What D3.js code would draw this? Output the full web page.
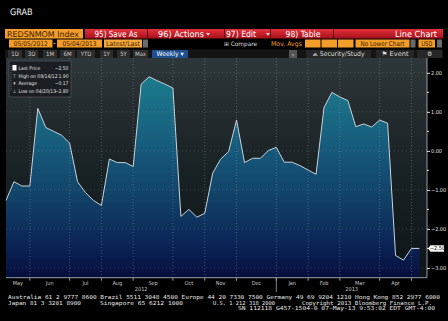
<!DOCTYPE html>
<html>
<head>
<meta charset="utf-8">
<script src="https://cdn.jsdelivr.net/npm/d3@7"></script>
<style>
  body { margin: 0; background: #000; }
  svg { display: block; }
  text { font-family: "DejaVu Sans Condensed", "Liberation Sans", sans-serif; text-rendering: geometricPrecision; }
</style>
</head>
<body>
<svg id="chart" width="448" height="321"></svg>
<script>

/* weekly values, REDSNMOM Index, 05/05/2012 - 05/04/2013 */
var weeklyValues = [
    -1.27, -0.79, -0.90, -0.90, 1.09, 0.60, 0.50, 0.40, 0.20, -0.79,
    -1.07, -1.27, -1.40, -0.21, -0.30, -0.30, -0.40, 1.71, 1.90, 1.80,
    1.71, 1.61, -1.68, -1.50, -1.70, -1.60, -0.57, -0.21, -0.02, 0.79,
    -0.30, -0.19, -0.19, 0.01, 0.09, -0.29, -0.29, -0.38, -0.49, -0.60,
    1.11, 1.50, 1.38, 1.29, 0.62, 0.69, 0.61, 0.79, 0.71, -2.68,
    -2.80, -2.50, -2.50
];
var startDate = new Date(2012, 4, 5);
var endDate = new Date(2013, 4, 4);

var yTicks = [2, 1, 0, -1, -2, -3];
var yMinorTicks = [1.5, 0.5, -0.5, -1.5, -2.5];
var monthNames = ["Jan", "Feb", "Mar", "Apr", "May", "Jun", "Jul", "Aug", "Sep", "Oct", "Nov", "Dec"];

var legendLabels = ["Last Price", "High on 09/14/12", "Average", "Low on 04/20/13"];

var footerLine1 = "Australia 61 2 9777 8600 Brazil 5511 3048 4500 Europe 44 20 7330 7500 Germany 49 69 9204 1210 Hong Kong 852 2977 6000";
var footerLine2 = ["Japan 81 3 3201 8900", "Singapore 65 6212 1000", "U.S. 1 212 318 2000", "Copyright 2013 Bloomberg Finance L.P."];
var footerLine3 = "SN 112118 G457-1504-0 07-May-13  9:53:02 EDT  GMT-4:00";


var dates = d3.timeSaturday.range(startDate, d3.timeDay.offset(endDate, 1));
var data = dates.map(function (d, i) {
    return {date: d, value: weeklyValues[i]};
});

var svg = d3.select("#chart");

var plotLeft = 6, plotRight = 427, plotTop = 58, plotBottom = 277.7;

var x = d3.scaleTime()
    .domain([dates[0], dates[dates.length - 1]])
    .range([plotLeft, 419.4]);

var y = d3.scaleLinear()
    .domain([-3.25, 2.38])
    .range([plotBottom, plotTop]);

var defs = svg.append("defs");

function vGrad(id, stops) {
    var g = defs.append("linearGradient").attr("id", id)
        .attr("gradientUnits", "userSpaceOnUse")
        .attr("x1", 0).attr("x2", 0).attr("y1", plotTop).attr("y2", plotBottom);
    stops.forEach(function (s) {
        g.append("stop").attr("offset", s[0]).attr("stop-color", s[1]);
    });
}

vGrad("bgGrad", [[0, "#2d3639"], [0.25, "#232b2e"], [0.55, "#172022"], [1, "#0e1519"]]);
vGrad("areaGrad", [[0, "#1f8190"], [0.15, "#1b7589"], [0.42, "#16597a"], [0.65, "#113f66"], [0.85, "#0b2456"], [1, "#060e3c"]]);

var redGrad = defs.append("linearGradient").attr("id", "redGrad")
    .attr("x1", 0).attr("x2", 0).attr("y1", 0).attr("y2", 1);
redGrad.append("stop").attr("offset", 0).attr("stop-color", "#e5303a");
redGrad.append("stop").attr("offset", 1).attr("stop-color", "#a3111b");

/* title + toolbars */

svg.append("text").attr("x", 10).attr("y", 15)
    .style("font-size", "9px").style("fill", "#f0f0f0").text("GRAB");

function box(x0, y0, w, h, fill, label, color, size, anchor, tl) {
    svg.append("rect").attr("x", x0).attr("y", y0).attr("width", w).attr("height", h)
        .style("fill", fill);
    if (label) {
        var t = svg.append("text")
            .attr("x", anchor === "end" ? x0 + w - 3 : anchor === "start" ? x0 + 2 : x0 + w / 2)
            .attr("y", y0 + h / 2 + size * 0.36)
            .attr("text-anchor", anchor || "middle")
            .style("font-size", size + "px")
            .style("fill", color)
            .text(label);
        if (tl) t.attr("textLength", tl).attr("lengthAdjust", "spacingAndGlyphs");
    }
}

// row 1
box(5, 29, 78, 9.5, "#f39d2a", "REDSNMOM Index", "#3a1e00", 8, "start", 72);
box(85, 29, 358, 9.5, "url(#redGrad)");
[["95) Save As", 116, 43], ["96) Actions", 181, 46], ["97) Edit", 241, 30], ["98) Table", 303, 35]].forEach(function (b) {
    svg.append("text").attr("x", b[1]).attr("y", 36.8).attr("text-anchor", "middle")
        .attr("textLength", b[2]).attr("lengthAdjust", "spacingAndGlyphs")
        .style("font-size", "8.5px").style("fill", "#fff").text(b[0]);
});
[147.5, 224.5, 270.5, 333.5].forEach(function (sx) {
    svg.append("line").attr("x1", sx).attr("x2", sx).attr("y1", 29).attr("y2", 38.5)
        .style("stroke", "#5a0a10").style("stroke-width", 1);
});
[208, 268].forEach(function (ax) {
    svg.append("path").attr("d", "M" + (ax - 2) + ",33.2L" + (ax + 2) + ",33.2L" + ax + ",35.4Z").style("fill", "#fff");
});
svg.append("text").attr("x", 437).attr("y", 36.8).attr("text-anchor", "end")
    .attr("textLength", 42).attr("lengthAdjust", "spacingAndGlyphs")
    .style("font-size", "8.5px").style("fill", "#fff").text("Line Chart");

// row 2
box(9, 39.5, 43.5, 8, "#f39d2a", "05/05/2012", "#3a1e00", 6.5, null, 34);
svg.append("rect").attr("x", 53.5).attr("y", 43).attr("width", 2).attr("height", 1).style("fill", "#f39d2a");
box(57, 39.5, 45, 8, "#f39d2a", "05/04/2013", "#3a1e00", 6.5, null, 34);
box(104, 39.5, 38, 8, "#f5a83c", "Latest/Last", "#3a1e00", 6.5, null, 34);
box(143, 39.5, 5, 8, "#6b6b6b");
svg.append("text").attr("x", 224).attr("y", 45.8).style("font-size", "6px").style("fill", "#ddd")
    .attr("textLength", 33).attr("lengthAdjust", "spacingAndGlyphs").text("⊞ Compare");
svg.append("text").attr("x", 271).attr("y", 45.8).style("font-size", "6.5px").style("fill", "#f39d2a")
    .attr("textLength", 31).attr("lengthAdjust", "spacingAndGlyphs").text("Mov. Avgs");
box(305, 39.5, 15.5, 8, "#f39d2a");
box(321.5, 39.5, 15.5, 8, "#f39d2a");
box(338, 39.5, 15.5, 8, "#f39d2a");
box(355.5, 39.5, 54, 8, "#f39d2a", "No Lower Chart", "#3a1e00", 6.5, null, 44);
box(410.5, 39.5, 5, 8, "#6b6b6b");
box(418.5, 39.5, 16.5, 8, "#f39d2a", "USD", "#3a1e00", 6.5, null, 11);
box(437, 39.5, 5, 8, "#6b6b6b");

// row 3
svg.append("rect").attr("x", 5).attr("y", 49.5).attr("width", 438).attr("height", 8.5).style("fill", "#141414");
[["1D", 8, 14], ["3D", 25, 13], ["1M", 43, 14], ["6M", 60, 15], ["YTD", 77, 18],
 ["1Y", 100, 13], ["5Y", 117, 13], ["Max", 133, 15]].forEach(function (b) {
    box(b[1], 50, b[2], 8, "#2c2c2c", b[0], "#c8c8c8", 6, null);
});
box(152, 50, 36, 8, "#1d4f90", "Weekly ▾", "#fff", 6.5, null, 27);
box(289, 50, 8, 8, "#555", "›", "#ddd", 7);
box(306, 50, 65, 8, "#262626", "⩕  Security/Study", "#ddd", 6.5, null, 52);
box(376, 50, 38, 8, "#262626", "⚑  Event", "#ddd", 6.5, null, 27);
box(417, 50, 25, 8, "#262626", "⚙", "#ddd", 6.5);

/* plot */

svg.append("rect")
    .attr("x", plotLeft).attr("y", plotTop)
    .attr("width", plotRight - plotLeft).attr("height", plotBottom - plotTop)
    .style("fill", "url(#bgGrad)");

var area = d3.area()
    .x(function (d) { return x(d.date); })
    .y0(plotBottom)
    .y1(function (d) { return y(d.value); });

var line = d3.line()
    .x(function (d) { return x(d.date); })
    .y(function (d) { return y(d.value); });

svg.append("path").datum(data).attr("d", area).style("fill", "url(#areaGrad)");

// gridlines: last data week of each month
var monthBreaks = [];
data.forEach(function (d, i) {
    if (i < data.length - 1 && d.date.getMonth() !== data[i + 1].date.getMonth()) monthBreaks.push(i);
});

var grid = svg.append("g").attr("class", "grid");
grid.selectAll("line.v").data(monthBreaks).enter().append("line")
    .attr("x1", function (i) { return x(dates[i]); })
    .attr("x2", function (i) { return x(dates[i]); })
    .attr("y1", plotTop).attr("y2", plotBottom)
    .style("stroke", "#8c9aa6").style("stroke-opacity", 0.45)
    .style("stroke-dasharray", "1,2");
grid.selectAll("line.h").data(yTicks).enter().append("line")
    .attr("x1", plotLeft).attr("x2", plotRight)
    .attr("y1", function (d) { return y(d); })
    .attr("y2", function (d) { return y(d); })
    .style("stroke", "#8c9aa6").style("stroke-opacity", 0.3)
    .style("stroke-dasharray", "1,3");

svg.append("path").datum(data).attr("d", line)
    .style("fill", "none").style("stroke", "#c9d2da").style("stroke-width", 1);

// x axis
svg.append("line").attr("x1", plotLeft).attr("x2", plotRight)
    .attr("y1", plotBottom).attr("y2", plotBottom)
    .style("stroke", "#b8c0c8").style("stroke-width", 0.8);
svg.selectAll("line.xt").data(monthBreaks).enter().append("line")
    .attr("x1", function (i) { return x(dates[i]); })
    .attr("x2", function (i) { return x(dates[i]); })
    .attr("y1", plotBottom).attr("y2", plotBottom + 3)
    .style("stroke", "#8c9aa6");

var segEdges = [plotLeft].concat(monthBreaks.map(function (i) { return x(dates[i]); }));
var segMonths = [dates[0].getMonth()].concat(monthBreaks.map(function (i) { return dates[i + 1].getMonth(); }));
segEdges.forEach(function (e, k) {
    if (k === segEdges.length - 1) return;
    svg.append("text")
        .attr("x", (e + segEdges[k + 1]) / 2).attr("y", 284.5)
        .attr("text-anchor", "middle")
        .style("font-size", "5.5px").style("fill", "#c8c8c8")
        .text(monthNames[segMonths[k]]);
});

var yearBreak = monthBreaks.filter(function (i) { return dates[i].getMonth() === 11; })[0];
var yearX = x(dates[yearBreak]);
svg.append("line").attr("x1", yearX).attr("x2", yearX).attr("y1", plotBottom).attr("y2", 292)
    .style("stroke", "#9aa4ae").style("stroke-width", 0.8);
[["2012", (plotLeft + yearX) / 2], ["2013", (yearX + plotRight) / 2]].forEach(function (yr) {
    svg.append("text").attr("x", yr[1]).attr("y", 291).attr("text-anchor", "middle")
        .style("font-size", "5.5px").style("fill", "#c8c8c8").text(yr[0]);
});

// y axis (right)
svg.append("line").attr("x1", plotRight).attr("x2", plotRight)
    .attr("y1", plotTop).attr("y2", plotBottom)
    .style("stroke", "#b8c0c8").style("stroke-width", 0.8);

var yAxis = d3.axisRight(y)
    .tickValues(yTicks)
    .tickSize(3)
    .tickFormat(d3.format(".2f"));
var ya = svg.append("g").attr("transform", "translate(" + plotRight + ",0)").call(yAxis);
ya.select(".domain").remove();
ya.selectAll("line").style("stroke", "#e0e0e0");
ya.selectAll("text").attr("x", 4).style("font-size", "5.5px").style("fill", "#e0e0e0")
    .style("font-family", "\"DejaVu Sans Condensed\", sans-serif");
svg.selectAll("line.ym").data(yMinorTicks).enter().append("line")
    .attr("x1", plotRight).attr("x2", plotRight + 2)
    .attr("y1", function (d) { return y(d); }).attr("y2", function (d) { return y(d); })
    .style("stroke", "#e0e0e0");

// last price tag
var last = data[data.length - 1].value;
var ly = y(last);
svg.append("path")
    .attr("d", "M428," + ly + "L430.5," + (ly - 3.2) + "L444," + (ly - 3.2) + "L444," + (ly + 3.2) + "L430.5," + (ly + 3.2) + "Z")
    .style("fill", "#f4f4f4");
svg.append("text").attr("x", 437.5).attr("y", ly + 2).attr("text-anchor", "middle")
    .style("font-size", "5.5px").style("fill", "#111").text(d3.format(".2f")(last));

// legend
var stats = [last, d3.max(weeklyValues), d3.mean(weeklyValues), d3.min(weeklyValues)];
svg.append("rect").attr("x", 9).attr("y", 61).attr("width", 62).attr("height", 36)
    .style("fill", "#191d21").style("fill-opacity", 0.9)
    .style("stroke", "#5a6066").style("stroke-width", 0.6);
svg.append("line").attr("x1", 11).attr("x2", 11).attr("y1", 66).attr("y2", 92)
    .style("stroke", "#aaa").style("stroke-width", 0.5).style("stroke-dasharray", "1,1");
svg.append("rect").attr("x", 12.5).attr("y", 65).attr("width", 4).attr("height", 5.5).style("fill", "#fff");
var icons = ["", "⊤", "▾", "⊥"];
legendLabels.forEach(function (lab, i) {
    var ty = 70 + i * 7.5;
    if (icons[i]) svg.append("text").attr("x", 14.5).attr("y", ty).attr("text-anchor", "middle")
        .style("font-size", "5px").style("fill", "#e0e0e0").text(icons[i]);
    svg.append("text").attr("x", 18.5).attr("y", ty)
        .style("font-size", "5px").style("fill", "#e0e0e0").text(lab);
    svg.append("text").attr("x", 68.5).attr("y", ty).attr("text-anchor", "end")
        .style("font-size", "5px").style("fill", "#e0e0e0").text(d3.format(".2f")(stats[i]));
});

/* footer */

function foot(txt, x0, x1, ty) {
    svg.append("text").attr("x", x0).attr("y", ty)
        .attr("textLength", x1 - x0).attr("lengthAdjust", "spacingAndGlyphs")
        .style("font-family", "\"DejaVu Sans Mono\", monospace")
        .style("font-size", "5.5px").style("fill", "#e8e8e8").text(txt);
}
foot(footerLine1, 8, 440, 299);
foot(footerLine2[0], 8, 81, 304.5);
foot(footerLine2[1], 100, 183, 304.5);
foot(footerLine2[2], 213, 275, 304.5);
foot(footerLine2[3], 302, 432, 304.5);
foot(footerLine3, 238, 435, 310);

</script>
</body>
</html>
